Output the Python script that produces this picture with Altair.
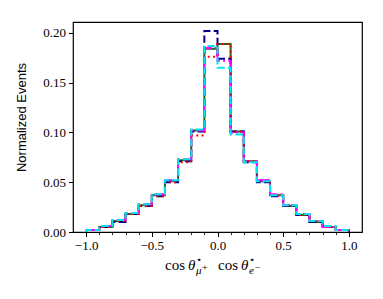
import altair as alt
import pandas as pd

# bin edges of the histogram (20 bins of width 0.1)
bin_edges = [round(-1.0 + 0.1 * i, 1) for i in range(21)]

# normalized bin contents per sample
green_vals = [0.002, 0.005, 0.011, 0.018, 0.027, 0.037, 0.051, 0.072, 0.102, 0.184,
              0.189, 0.101, 0.071, 0.051, 0.037, 0.026, 0.017, 0.010, 0.005, 0.002]
navy_vals = [0.002, 0.005, 0.010, 0.018, 0.026, 0.036, 0.050, 0.071, 0.101, 0.202,
             0.174, 0.101, 0.070, 0.050, 0.036, 0.026, 0.017, 0.010, 0.005, 0.002]
red_vals = [0.002, 0.005, 0.011, 0.018, 0.026, 0.036, 0.050, 0.070, 0.097, 0.176,
            0.189, 0.101, 0.071, 0.052, 0.037, 0.027, 0.017, 0.011, 0.005, 0.002]
magenta_vals = [0.002, 0.006, 0.012, 0.019, 0.028, 0.038, 0.052, 0.073, 0.102, 0.185,
                0.172, 0.100, 0.071, 0.052, 0.038, 0.027, 0.018, 0.011, 0.005, 0.002]
cyan_vals = [0.002, 0.006, 0.012, 0.019, 0.028, 0.038, 0.052, 0.073, 0.103, 0.187,
             0.165, 0.098, 0.070, 0.051, 0.037, 0.027, 0.018, 0.011, 0.006, 0.002]

series = [
    ("green", green_vals, "#1a6b1a", []),
    ("navy", navy_vals, "#00008b", [7.4, 3.2]),
    ("red", red_vals, "#ff0000", [2, 3.3]),
    ("magenta", magenta_vals, "#ff00ff", [12.8, 3.2, 2, 3.2]),
    ("cyan", cyan_vals, "#00e5ee", [7.4, 3.2]),
]

x_major = [-1.0, -0.5, 0.0, 0.5, 1.0]
x_minor = bin_edges
y_major = [0.0, 0.05, 0.10, 0.15, 0.20]

W, H = 289, 210
xscale = alt.Scale(domain=[-1.1, 1.1], nice=False, zero=False)
yscale = alt.Scale(domain=[0, 0.211], nice=False, zero=True)

x_axis = alt.Axis(orient="bottom", values=x_major, format=".1f", title=None,
                  labelFont="Liberation Serif", labelFontSize=13, labelColor="black",
                  tickSize=4.5, tickColor="black", tickWidth=1, domain=False,
                  grid=False, labelPadding=3)
x_minor_axis = alt.Axis(orient="bottom", values=x_minor, labels=False, title=None,
                        tickSize=2.7, tickColor="black", tickWidth=0.8, domain=False,
                        grid=False)
y_axis = alt.Axis(values=y_major, format=".2f", title="Normalized Events",
                  labelFont="Liberation Serif", labelFontSize=13, labelColor="black",
                  tickSize=4.5, tickColor="black", tickWidth=1, domain=False,
                  grid=False, labelPadding=3,
                  titleFont="Liberation Sans", titleFontSize=13,
                  titleFontWeight="normal", titleColor="black",
                  titleX=-52, titleY=95, titleAngle=270,
                  titleAlign="center", titleBaseline="middle")

layers = []
first = True
for name, vals, color, dash in series:
    rows = [{"x": bin_edges[0], "y": 0.0, "o": 0}]
    for i, v in enumerate(vals):
        rows.append({"x": bin_edges[i], "y": v, "o": i + 1})
    rows.append({"x": bin_edges[-1], "y": vals[-1], "o": len(vals) + 1})
    rows.append({"x": bin_edges[-1], "y": 0.0, "o": len(vals) + 2})
    df = pd.DataFrame(rows)
    mk = dict(interpolate="step-after", color=color, strokeWidth=2, clip=True)
    if dash:
        mk["strokeDash"] = dash
    layer = alt.Chart(df).mark_line(**mk).encode(
        x=alt.X("x:Q", scale=xscale, axis=x_axis if first else None),
        y=alt.Y("y:Q", scale=yscale, axis=y_axis),
        order="o:Q",
    )
    first = False
    layers.append(layer)

minor_df = pd.DataFrame({"x": x_minor})
minor_layer = alt.Chart(minor_df).mark_point(opacity=0).encode(
    x=alt.X("x:Q", scale=xscale, axis=x_minor_axis),
)
layers.append(minor_layer)

# x-axis title built from pieces (sub/superscripts)
base = 248
pieces = [
    ("cos", 92, base, 15, "normal"),
    ("θ", 115, base, 15, "italic"),
    ("⋆", 123, base - 7, 10, "normal"),
    ("μ", 123, base + 4, 11, "italic"),
    ("+", 129, base + 1, 10, "normal"),
    ("cos", 145, base, 15, "normal"),
    ("θ", 168, base, 15, "italic"),
    ("⋆", 176, base - 7, 10, "normal"),
    ("e", 176, base + 4, 11, "italic"),
    ("−", 182, base + 1, 10, "normal"),
]
for txt, px, py, fs, style in pieces:
    layers.append(
        alt.Chart(pd.DataFrame({"t": [txt]})).mark_text(
            align="left", baseline="alphabetic", font="Liberation Serif",
            fontSize=fs, fontStyle=style, color="black"
        ).encode(x=alt.value(px), y=alt.value(py), text="t:N")
    )

chart = alt.layer(*layers).resolve_axis(x="independent").properties(
    width=W, height=H,
    autosize=alt.AutoSizeParams(type="none"),
    padding={"left": 65, "top": 14, "right": 10, "bottom": 55},
).configure_view(stroke="black", strokeWidth=1.2)

chart.save("out.html", embed_options={"renderer": "svg", "actions": False})
